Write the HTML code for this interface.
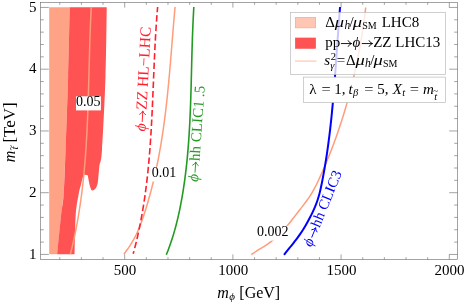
<!DOCTYPE html>
<html><head><meta charset="utf-8"><title>plot</title>
<style>
html,body{margin:0;padding:0;background:#fff;width:467px;height:307px;overflow:hidden}
svg{display:block;position:absolute;left:0;top:0;will-change:transform}
text{font-family:"Liberation Serif",serif;fill:#000}
</style></head><body>
<svg width="467" height="307" viewBox="0 0 467 307">
<rect width="467" height="307" fill="#fff"/>
<path d="M49.20,7.20 L69.75,7.20 L68.10,77.00 L65.50,152.00 L63.60,195.00 L61.10,215.00 L57.20,254.30 L49.20,254.30 Z" fill="#FFA386"/>
<path d="M69.75,7.20 C69.47,18.83 68.81,52.87 68.10,77.00 C67.39,101.13 66.25,132.33 65.50,152.00 C64.75,171.67 64.33,184.50 63.60,195.00 C62.87,205.50 62.17,205.12 61.10,215.00 C60.03,224.88 57.85,247.75 57.20,254.30 L74.60,254.30 L74.60,254.30 C74.78,247.75 75.05,224.88 75.70,215.00 C76.35,205.12 77.60,200.17 78.50,195.00 C79.40,189.83 80.25,187.42 81.10,184.00 C81.95,180.58 83.18,176.08 83.60,174.50 L87.80,175.30 C88.02,176.52 88.70,180.65 89.10,182.60 C89.50,184.55 89.72,185.70 90.20,187.00 C90.68,188.30 91.12,190.15 92.00,190.40 C92.88,190.65 94.53,189.80 95.50,188.50 C96.47,187.20 97.15,186.30 97.80,182.60 C98.45,178.90 98.70,171.73 99.40,166.30 C100.10,160.87 100.98,164.88 102.00,150.00 C103.02,135.12 104.71,100.80 105.50,77.00 C106.29,53.20 106.54,18.83 106.75,7.20 Z" fill="#FF5252"/>
<path d="M91.28,7.00 C91.25,7.70 91.13,9.79 91.06,11.19 C90.99,12.59 90.93,13.98 90.86,15.38 C90.80,16.78 90.73,18.17 90.67,19.57 C90.61,20.97 90.55,22.36 90.49,23.76 C90.44,25.16 90.38,26.55 90.33,27.95 C90.27,29.35 90.22,30.74 90.17,32.14 C90.12,33.54 90.07,34.93 90.02,36.33 C89.97,37.73 89.93,39.12 89.88,40.52 C89.84,41.92 89.79,43.31 89.75,44.71 C89.71,46.11 89.67,47.50 89.63,48.90 C89.59,50.29 89.55,51.69 89.51,53.09 C89.47,54.48 89.43,55.88 89.39,57.28 C89.35,58.67 89.31,60.07 89.28,61.47 C89.24,62.86 89.20,64.26 89.17,65.66 C89.13,67.05 89.09,68.45 89.06,69.85 C89.02,71.24 88.99,72.64 88.95,74.04 C88.91,75.43 88.88,76.83 88.84,78.23 C88.80,79.62 88.77,81.02 88.73,82.42 C88.69,83.81 88.65,85.21 88.61,86.61 C88.57,88.00 88.54,89.40 88.50,90.80 C88.46,92.19 88.41,93.59 88.37,94.99 C88.33,96.38 88.29,97.78 88.24,99.18 C88.20,100.57 88.16,101.97 88.11,103.37 C88.06,104.76 88.02,106.16 87.97,107.56 C87.92,108.95 87.87,110.35 87.82,111.75 C87.76,113.14 87.71,114.54 87.66,115.94 C87.60,117.33 87.54,118.73 87.48,120.13 C87.42,121.52 87.36,122.92 87.30,124.32 C87.24,125.71 87.17,127.11 87.10,128.51 C87.04,129.90 86.97,131.30 86.89,132.69 C86.82,134.09 86.75,135.49 86.67,136.88 C86.59,138.28 86.51,139.68 86.43,141.07 C86.35,142.47 86.26,143.87 86.17,145.26 C86.08,146.66 85.99,148.06 85.90,149.45 C85.80,150.85 85.71,152.25 85.61,153.64 C85.50,155.04 85.40,156.44 85.29,157.83 C85.19,159.23 85.07,160.63 84.96,162.02 C84.84,163.42 84.73,164.82 84.60,166.21 C84.48,167.61 84.36,169.01 84.23,170.40 C84.10,171.80 83.96,173.20 83.83,174.59 C83.69,175.99 83.55,177.39 83.40,178.78 C83.25,180.18 83.10,181.58 82.95,182.97 C82.79,184.37 82.63,185.77 82.47,187.16 C82.31,188.56 82.14,189.96 81.96,191.35 C81.79,192.75 81.61,194.15 81.43,195.54 C81.25,196.94 81.06,198.34 80.87,199.73 C80.67,201.13 80.47,202.53 80.27,203.92 C80.07,205.32 79.86,206.72 79.64,208.11 C79.43,209.51 79.21,210.91 78.99,212.30 C78.76,213.70 78.53,215.09 78.29,216.49 C78.06,217.89 77.81,219.28 77.57,220.68 C77.32,222.08 77.06,223.47 76.80,224.87 C76.54,226.27 76.28,227.66 76.00,229.06 C75.73,230.46 75.45,231.85 75.17,233.25 C74.88,234.65 74.59,236.04 74.29,237.44 C73.99,238.84 73.69,240.23 73.38,241.63 C73.07,243.03 72.75,244.42 72.42,245.82 C72.10,247.22 71.76,248.61 71.42,250.01 C71.09,251.41 70.56,253.50 70.39,254.20" fill="none" stroke="#FF9C7A" stroke-width="1.5"/>
<path d="M175.05,7.00 C174.99,7.70 174.80,9.79 174.68,11.19 C174.55,12.59 174.43,13.98 174.31,15.38 C174.19,16.78 174.07,18.17 173.95,19.57 C173.83,20.97 173.72,22.36 173.60,23.76 C173.48,25.16 173.37,26.55 173.25,27.95 C173.14,29.35 173.02,30.74 172.91,32.14 C172.80,33.54 172.68,34.93 172.57,36.33 C172.46,37.73 172.34,39.12 172.23,40.52 C172.12,41.92 172.01,43.31 171.89,44.71 C171.78,46.11 171.67,47.50 171.56,48.90 C171.44,50.29 171.33,51.69 171.22,53.09 C171.10,54.48 170.99,55.88 170.87,57.28 C170.76,58.67 170.64,60.07 170.53,61.47 C170.41,62.86 170.29,64.26 170.17,65.66 C170.05,67.05 169.93,68.45 169.81,69.85 C169.69,71.24 169.57,72.64 169.44,74.04 C169.32,75.43 169.19,76.83 169.07,78.23 C168.94,79.62 168.81,81.02 168.68,82.42 C168.55,83.81 168.41,85.21 168.28,86.61 C168.14,88.00 168.01,89.40 167.87,90.80 C167.73,92.19 167.58,93.59 167.44,94.99 C167.29,96.38 167.15,97.78 167.00,99.18 C166.85,100.57 166.69,101.97 166.54,103.37 C166.38,104.76 166.22,106.16 166.06,107.56 C165.90,108.95 165.73,110.35 165.56,111.75 C165.40,113.14 165.22,114.54 165.05,115.94 C164.87,117.33 164.69,118.73 164.51,120.13 C164.33,121.52 164.14,122.92 163.95,124.32 C163.76,125.71 163.56,127.11 163.36,128.51 C163.17,129.90 162.96,131.30 162.75,132.69 C162.55,134.09 162.33,135.49 162.12,136.88 C161.90,138.28 161.68,139.68 161.45,141.07 C161.23,142.47 161.00,143.87 160.76,145.26 C160.52,146.66 160.28,148.06 160.04,149.45 C159.79,150.85 159.54,152.25 159.28,153.64 C159.03,155.04 158.76,156.44 158.50,157.83 C158.23,159.23 157.95,160.63 157.67,162.02 C157.40,163.42 157.11,164.82 156.82,166.21 C156.53,167.61 156.23,169.01 155.93,170.40 C155.62,171.80 155.31,173.20 155.00,174.59 C154.68,175.99 154.36,177.39 154.03,178.78 C153.70,180.18 153.36,181.58 153.02,182.97 C152.68,184.37 152.33,185.77 151.97,187.16 C151.61,188.56 151.25,189.96 150.88,191.35 C150.51,192.75 150.13,194.15 149.74,195.54 C149.36,196.94 148.96,198.34 148.56,199.73 C148.16,201.13 147.75,202.53 147.33,203.92 C146.92,205.32 146.49,206.72 146.06,208.11 C145.63,209.51 145.19,210.91 144.74,212.30 C144.29,213.70 143.83,215.09 143.36,216.49 C142.90,217.89 142.43,219.28 141.94,220.68 C141.44,222.08 140.94,223.47 140.41,224.87 C139.88,226.27 139.33,227.66 138.75,229.06 C138.16,230.46 137.55,231.85 136.89,233.25 C136.23,234.65 135.54,236.04 134.79,237.44 C134.05,238.84 133.25,240.23 132.42,241.63 C131.59,243.03 130.71,244.42 129.79,245.82 C128.87,247.22 127.91,248.61 126.93,250.01 C125.94,251.41 124.36,253.50 123.85,254.20" fill="none" stroke="#FF9C7A" stroke-width="1.5"/>
<path d="M365.71,7.50 C365.62,8.20 365.37,10.29 365.20,11.69 C365.03,13.09 364.85,14.48 364.67,15.88 C364.49,17.28 364.30,18.67 364.11,20.07 C363.92,21.47 363.72,22.86 363.52,24.26 C363.33,25.66 363.12,27.05 362.91,28.45 C362.70,29.85 362.49,31.24 362.27,32.64 C362.06,34.04 361.83,35.43 361.61,36.83 C361.38,38.23 361.15,39.62 360.91,41.02 C360.68,42.42 360.44,43.81 360.19,45.21 C359.94,46.61 359.69,48.00 359.44,49.40 C359.18,50.79 358.92,52.19 358.65,53.59 C358.39,54.98 358.12,56.38 357.84,57.78 C357.56,59.17 357.28,60.57 357.00,61.97 C356.71,63.36 356.42,64.76 356.12,66.16 C355.82,67.55 355.52,68.95 355.21,70.35 C354.91,71.74 354.59,73.14 354.28,74.54 C353.96,75.93 353.63,77.33 353.30,78.73 C352.97,80.12 352.64,81.52 352.30,82.92 C351.96,84.31 351.61,85.71 351.26,87.11 C350.91,88.50 350.55,89.90 350.19,91.30 C349.83,92.69 349.46,94.09 349.08,95.49 C348.71,96.88 348.33,98.28 347.94,99.68 C347.55,101.07 347.16,102.47 346.76,103.87 C346.37,105.26 345.96,106.66 345.55,108.06 C345.14,109.45 344.72,110.85 344.30,112.25 C343.88,113.64 343.45,115.04 343.01,116.44 C342.58,117.83 342.14,119.23 341.69,120.63 C341.24,122.02 340.79,123.42 340.33,124.82 C339.87,126.21 339.40,127.61 338.93,129.01 C338.46,130.40 337.98,131.80 337.49,133.19 C337.00,134.59 336.51,135.99 336.01,137.38 C335.51,138.78 335.01,140.18 334.49,141.57 C333.98,142.97 333.46,144.37 332.94,145.76 C332.41,147.16 331.88,148.56 331.34,149.95 C330.80,151.35 330.25,152.75 329.70,154.14 C329.14,155.54 328.58,156.94 328.02,158.33 C327.45,159.73 326.87,161.13 326.29,162.52 C325.71,163.92 325.12,165.32 324.53,166.71 C323.93,168.11 323.33,169.51 322.72,170.90 C322.11,172.30 321.49,173.70 320.86,175.09 C320.24,176.49 319.61,177.89 318.96,179.28 C318.32,180.68 317.66,182.08 316.98,183.47 C316.29,184.87 315.59,186.27 314.84,187.66 C314.10,189.06 313.33,190.46 312.51,191.85 C311.69,193.25 310.83,194.65 309.92,196.04 C309.00,197.44 308.03,198.84 307.04,200.23 C306.04,201.63 305.00,203.03 303.94,204.42 C302.89,205.82 301.80,207.22 300.72,208.61 C299.64,210.01 298.54,211.41 297.45,212.80 C296.36,214.20 295.29,215.59 294.20,216.99 C293.11,218.39 292.03,219.78 290.91,221.18 C289.80,222.58 288.68,223.97 287.51,225.37 C286.35,226.77 285.18,228.16 283.92,229.56 C282.67,230.96 281.38,232.35 279.98,233.75 C278.58,235.15 277.13,236.54 275.52,237.94 C273.91,239.34 272.22,240.73 270.34,242.13 C268.47,243.53 266.47,244.92 264.27,246.32 C262.07,247.72 259.30,249.11 257.15,250.51 C255.00,251.91 252.33,254.00 251.37,254.70" fill="none" stroke="#FF9C7A" stroke-width="1.5"/>
<path d="M157.61,7.00 C157.53,8.05 157.26,11.22 157.10,13.33 C156.93,15.43 156.77,17.54 156.62,19.65 C156.47,21.76 156.33,23.87 156.19,25.98 C156.05,28.09 155.92,30.19 155.79,32.30 C155.66,34.41 155.54,36.52 155.42,38.63 C155.30,40.74 155.19,42.85 155.08,44.95 C154.97,47.06 154.87,49.17 154.76,51.28 C154.66,53.39 154.56,55.50 154.47,57.61 C154.37,59.71 154.27,61.82 154.18,63.93 C154.09,66.04 154.00,68.15 153.91,70.26 C153.82,72.36 153.74,74.47 153.65,76.58 C153.56,78.69 153.48,80.80 153.39,82.91 C153.30,85.02 153.22,87.12 153.13,89.23 C153.04,91.34 152.95,93.45 152.86,95.56 C152.77,97.67 152.68,99.78 152.59,101.88 C152.50,103.99 152.40,106.10 152.31,108.21 C152.21,110.32 152.11,112.43 152.00,114.54 C151.90,116.64 151.79,118.75 151.68,120.86 C151.57,122.97 151.46,125.08 151.34,127.19 C151.22,129.30 151.09,131.40 150.96,133.51 C150.83,135.62 150.70,137.73 150.56,139.84 C150.42,141.95 150.27,144.06 150.12,146.16 C149.96,148.27 149.80,150.38 149.64,152.49 C149.47,154.60 149.29,156.71 149.11,158.82 C148.93,160.92 148.74,163.03 148.54,165.14 C148.34,167.25 148.13,169.36 147.91,171.47 C147.70,173.58 147.47,175.68 147.23,177.79 C147.00,179.90 146.75,182.01 146.49,184.12 C146.23,186.23 145.97,188.34 145.69,190.44 C145.41,192.55 145.12,194.66 144.82,196.77 C144.51,198.88 144.20,200.99 143.87,203.09 C143.55,205.20 143.21,207.31 142.85,209.42 C142.50,211.53 142.14,213.64 141.76,215.75 C141.38,217.85 140.98,219.96 140.57,222.07 C140.17,224.18 139.74,226.29 139.30,228.40 C138.86,230.51 138.41,232.61 137.94,234.72 C137.47,236.83 136.98,238.94 136.47,241.05 C135.97,243.16 135.44,245.27 134.90,247.37 C134.35,249.48 133.49,252.65 133.21,253.70" fill="none" stroke="#FF1F2D" stroke-width="1.6" stroke-dasharray="6.5,3" stroke-dashoffset="1.3"/>
<path d="M193.84,7.00 C193.78,8.06 193.59,11.24 193.48,13.35 C193.36,15.47 193.26,17.59 193.16,19.71 C193.06,21.83 192.96,23.94 192.87,26.06 C192.78,28.18 192.70,30.30 192.62,32.42 C192.54,34.53 192.46,36.65 192.39,38.77 C192.32,40.89 192.26,43.01 192.19,45.12 C192.13,47.24 192.07,49.36 192.01,51.48 C191.95,53.59 191.89,55.71 191.84,57.83 C191.78,59.95 191.73,62.07 191.68,64.18 C191.62,66.30 191.57,68.42 191.52,70.54 C191.47,72.66 191.42,74.77 191.36,76.89 C191.31,79.01 191.26,81.13 191.20,83.25 C191.15,85.36 191.09,87.48 191.03,89.60 C190.97,91.72 190.91,93.84 190.84,95.95 C190.78,98.07 190.71,100.19 190.64,102.31 C190.56,104.43 190.49,106.54 190.40,108.66 C190.32,110.78 190.24,112.90 190.14,115.02 C190.05,117.13 189.96,119.25 189.85,121.37 C189.75,123.49 189.64,125.61 189.52,127.72 C189.40,129.84 189.28,131.96 189.14,134.08 C189.01,136.19 188.87,138.31 188.72,140.43 C188.57,142.55 188.41,144.67 188.25,146.78 C188.08,148.90 187.90,151.02 187.71,153.14 C187.53,155.26 187.33,157.37 187.12,159.49 C186.91,161.61 186.69,163.73 186.46,165.85 C186.22,167.96 185.98,170.08 185.72,172.20 C185.47,174.32 185.20,176.44 184.91,178.55 C184.63,180.67 184.34,182.79 184.02,184.91 C183.71,187.03 183.39,189.14 183.05,191.26 C182.71,193.38 182.35,195.50 181.98,197.62 C181.61,199.73 181.22,201.85 180.82,203.97 C180.41,206.09 179.99,208.21 179.55,210.32 C179.11,212.44 178.65,214.56 178.16,216.68 C177.68,218.79 177.17,220.91 176.63,223.03 C176.10,225.15 175.54,227.27 174.95,229.38 C174.36,231.50 173.74,233.62 173.09,235.74 C172.43,237.86 171.75,239.97 171.03,242.09 C170.31,244.21 169.56,246.33 168.76,248.45 C167.97,250.56 166.68,253.74 166.27,254.80" fill="none" stroke="#239B23" stroke-width="1.6"/>
<path d="M340.08,7.00 C340.02,7.70 339.85,9.80 339.74,11.20 C339.62,12.60 339.51,14.00 339.40,15.40 C339.29,16.80 339.18,18.20 339.07,19.61 C338.97,21.01 338.86,22.41 338.76,23.81 C338.65,25.21 338.55,26.61 338.44,28.01 C338.34,29.41 338.24,30.81 338.14,32.21 C338.04,33.61 337.94,35.01 337.84,36.41 C337.74,37.81 337.64,39.21 337.54,40.61 C337.44,42.01 337.34,43.41 337.25,44.82 C337.15,46.22 337.05,47.62 336.95,49.02 C336.85,50.42 336.76,51.82 336.66,53.22 C336.56,54.62 336.46,56.02 336.36,57.42 C336.27,58.82 336.17,60.22 336.07,61.62 C335.97,63.02 335.87,64.42 335.77,65.82 C335.67,67.22 335.57,68.62 335.47,70.03 C335.37,71.43 335.26,72.83 335.16,74.23 C335.06,75.63 334.95,77.03 334.84,78.43 C334.74,79.83 334.63,81.23 334.52,82.63 C334.41,84.03 334.30,85.43 334.19,86.83 C334.08,88.23 333.97,89.63 333.85,91.03 C333.74,92.43 333.62,93.84 333.50,95.24 C333.38,96.64 333.26,98.04 333.14,99.44 C333.02,100.84 332.89,102.24 332.77,103.64 C332.64,105.04 332.51,106.44 332.38,107.84 C332.24,109.24 332.11,110.64 331.97,112.04 C331.84,113.44 331.70,114.84 331.55,116.24 C331.41,117.64 331.26,119.05 331.12,120.45 C330.97,121.85 330.82,123.25 330.66,124.65 C330.51,126.05 330.35,127.45 330.19,128.85 C330.02,130.25 329.86,131.65 329.69,133.05 C329.52,134.45 329.35,135.85 329.17,137.25 C329.00,138.65 328.82,140.05 328.63,141.45 C328.45,142.85 328.26,144.26 328.07,145.66 C327.88,147.06 327.68,148.46 327.48,149.86 C327.28,151.26 327.08,152.66 326.87,154.06 C326.66,155.46 326.45,156.86 326.23,158.26 C326.01,159.66 325.79,161.06 325.56,162.46 C325.33,163.86 325.10,165.26 324.86,166.66 C324.62,168.06 324.38,169.47 324.13,170.87 C323.89,172.27 323.63,173.67 323.37,175.07 C323.12,176.47 322.85,177.87 322.58,179.27 C322.31,180.67 322.04,182.07 321.76,183.47 C321.47,184.87 321.19,186.27 320.88,187.67 C320.57,189.07 320.26,190.47 319.92,191.87 C319.57,193.28 319.21,194.68 318.81,196.08 C318.41,197.48 317.99,198.88 317.52,200.28 C317.05,201.68 316.54,203.08 315.99,204.48 C315.45,205.88 314.86,207.28 314.25,208.68 C313.63,210.08 312.98,211.48 312.31,212.88 C311.63,214.28 310.93,215.68 310.21,217.08 C309.48,218.49 308.74,219.89 307.97,221.29 C307.20,222.69 306.41,224.09 305.59,225.49 C304.77,226.89 303.92,228.29 303.03,229.69 C302.15,231.09 301.23,232.49 300.27,233.89 C299.30,235.29 298.30,236.69 297.26,238.09 C296.22,239.49 295.12,240.89 294.03,242.29 C292.93,243.70 291.79,245.10 290.67,246.50 C289.55,247.90 288.41,249.30 287.30,250.70 C286.19,252.10 284.57,254.20 284.02,254.90" fill="none" stroke="#0000FF" stroke-width="2"/>
<rect x="76.00" y="96.30" width="24.90" height="14.10" fill="#fff"/>
<text x="76.10" y="106.20" style="font-size:14px">0.05</text>
<rect x="150.90" y="166.80" width="25.10" height="14.70" fill="#fff"/>
<text x="151.70" y="177.40" style="font-size:14px">0.01</text>
<rect x="256.30" y="226.40" width="33.70" height="14.20" fill="#fff"/>
<text x="256.90" y="236.40" style="font-size:14px">0.002</text>
<g stroke="#666" stroke-width="0.6" fill="none">
<rect x="40.5" y="2.5" width="417.0" height="257.0"/>
<path d="M59.78,259.50 v-2.3 M59.78,2.50 v2.3 M81.42,259.50 v-2.3 M81.42,2.50 v2.3 M103.06,259.50 v-2.3 M103.06,2.50 v2.3 M124.70,259.50 v-5.1 M124.70,2.50 v5.1 M146.34,259.50 v-2.3 M146.34,2.50 v2.3 M167.98,259.50 v-2.3 M167.98,2.50 v2.3 M189.62,259.50 v-2.3 M189.62,2.50 v2.3 M211.26,259.50 v-2.3 M211.26,2.50 v2.3 M232.90,259.50 v-5.1 M232.90,2.50 v5.1 M254.54,259.50 v-2.3 M254.54,2.50 v2.3 M276.18,259.50 v-2.3 M276.18,2.50 v2.3 M297.82,259.50 v-2.3 M297.82,2.50 v2.3 M319.46,259.50 v-2.3 M319.46,2.50 v2.3 M341.10,259.50 v-5.1 M341.10,2.50 v5.1 M362.74,259.50 v-2.3 M362.74,2.50 v2.3 M384.38,259.50 v-2.3 M384.38,2.50 v2.3 M406.02,259.50 v-2.3 M406.02,2.50 v2.3 M427.66,259.50 v-2.3 M427.66,2.50 v2.3 M449.30,259.50 v-5.1 M449.30,2.50 v5.1 M40.50,254.45 h8.3 M457.50,254.45 h-8.3 M40.50,242.10 h3.3 M457.50,242.10 h-3.3 M40.50,229.75 h3.3 M457.50,229.75 h-3.3 M40.50,217.40 h3.3 M457.50,217.40 h-3.3 M40.50,205.05 h3.3 M457.50,205.05 h-3.3 M40.50,192.70 h8.3 M457.50,192.70 h-8.3 M40.50,180.35 h3.3 M457.50,180.35 h-3.3 M40.50,168.00 h3.3 M457.50,168.00 h-3.3 M40.50,155.65 h3.3 M457.50,155.65 h-3.3 M40.50,143.30 h3.3 M457.50,143.30 h-3.3 M40.50,130.95 h8.3 M457.50,130.95 h-8.3 M40.50,118.60 h3.3 M457.50,118.60 h-3.3 M40.50,106.25 h3.3 M457.50,106.25 h-3.3 M40.50,93.90 h3.3 M457.50,93.90 h-3.3 M40.50,81.55 h3.3 M457.50,81.55 h-3.3 M40.50,69.20 h8.3 M457.50,69.20 h-8.3 M40.50,56.85 h3.3 M457.50,56.85 h-3.3 M40.50,44.50 h3.3 M457.50,44.50 h-3.3 M40.50,32.15 h3.3 M457.50,32.15 h-3.3 M40.50,19.80 h3.3 M457.50,19.80 h-3.3 M40.50,7.45 h8.3 M457.50,7.45 h-8.3"/>
</g>
<text x="125.00" y="274.80" style="font-size:15px" text-anchor="middle">500</text>
<text x="233.20" y="274.80" style="font-size:15px" text-anchor="middle">1000</text>
<text x="341.40" y="274.80" style="font-size:15px" text-anchor="middle">1500</text>
<text x="449.60" y="274.80" style="font-size:15px" text-anchor="middle">2000</text>
<text x="36.60" y="258.55" style="font-size:15px" text-anchor="end">1</text>
<text x="36.60" y="196.80" style="font-size:15px" text-anchor="end">2</text>
<text x="36.60" y="135.05" style="font-size:15px" text-anchor="end">3</text>
<text x="36.60" y="73.30" style="font-size:15px" text-anchor="end">4</text>
<text x="36.60" y="11.55" style="font-size:15px" text-anchor="end">5</text>
<text x="217.30" y="297.90" style="font-size:16px;font-style:italic">m</text>
<text x="229.20" y="300.30" style="font-size:11px;font-style:italic">ϕ</text>
<text x="239.30" y="297.90" style="font-size:16px">[GeV]</text>
<g transform="translate(15.3,162.2) rotate(-90)">
<text x="0.00" y="0.00" style="font-size:16px;font-style:italic">m</text>
<text x="12.70" y="2.80" style="font-size:11px;font-style:italic">t</text>
<text x="11.60" y="-1.60" style="font-size:10.5px">~</text>
<text x="19.60" y="0.00" style="font-size:16px" textLength="40.20" lengthAdjust="spacingAndGlyphs">[TeV]</text>
</g>
<g transform="translate(145.50,131.40) rotate(-87.05)">
<text x="0.00" y="0.00" style="font-size:15.5px;font-style:italic;fill:#FF1F2D">ϕ</text>
<path transform="translate(8.60,0.00) scale(1.03333)" d="M1,-3.65 H11 M7.9,-6.5 Q9,-4.3 11.3,-3.65 Q9,-3 7.9,-0.8" fill="none" stroke="#FF1F2D" stroke-width="0.9" stroke-linecap="round"/>
<text x="21.40" y="0.00" style="font-size:15.5px;fill:#FF1F2D">ZZ HL−LHC</text>
</g>
<g transform="translate(198.00,182.10) rotate(-86)">
<text x="0.00" y="0.00" style="font-size:15px;font-style:italic;fill:#239B23">ϕ</text>
<path transform="translate(8.60,0.00) scale(1)" d="M1,-3.65 H11 M7.9,-6.5 Q9,-4.3 11.3,-3.65 Q9,-3 7.9,-0.8" fill="none" stroke="#239B23" stroke-width="0.9" stroke-linecap="round"/>
<text x="21.00" y="0.00" style="font-size:15px;fill:#239B23">hh CLIC1 .5</text>
</g>
<g transform="translate(311.50,247.40) rotate(-67.7)">
<text x="0.00" y="0.00" style="font-size:14.8px;font-style:italic;fill:#0000FF">ϕ</text>
<path transform="translate(8.60,0.00) scale(0.986667)" d="M1,-3.65 H11 M7.9,-6.5 Q9,-4.3 11.3,-3.65 Q9,-3 7.9,-0.8" fill="none" stroke="#0000FF" stroke-width="0.9" stroke-linecap="round"/>
<text x="20.84" y="0.00" style="font-size:14.8px;fill:#0000FF">hh CLIC3</text>
</g>
<rect x="290.5" y="12.5" width="155" height="62" fill="#fff" fill-opacity="0.78" stroke="#bbb" stroke-width="0.7"/>
<rect x="295.4" y="17.5" width="20.2" height="10.3" fill="#FFC7B3" stroke="#FFA98F" stroke-width="0.8"/>
<rect x="295.4" y="38" width="20.2" height="10.3" fill="#FF5252" stroke="#FF5252" stroke-width="0.7"/>
<path d="M295,61.1 h21.5" stroke="#FFC5B0" stroke-width="1.2"/>
<text x="325.20" y="26.80" style="font-size:15px">Δ</text>
<text x="334.80" y="26.80" style="font-size:15px;font-style:italic" textLength="9.30" lengthAdjust="spacingAndGlyphs">μ</text>
<text x="344.40" y="28.70" style="font-size:11.5px;font-style:italic">h</text>
<text x="349.50" y="26.80" style="font-size:15px">/</text>
<text x="352.80" y="26.80" style="font-size:15px;font-style:italic" textLength="9.30" lengthAdjust="spacingAndGlyphs">μ</text>
<text x="362.30" y="28.70" style="font-size:10px">SM</text>
<text x="381.70" y="26.80" style="font-size:15px">LHC8</text>
<text x="325.30" y="47.20" style="font-size:15px">pp</text>
<path transform="translate(340.30,47.20) scale(1)" d="M1,-3.65 H11 M7.9,-6.5 Q9,-4.3 11.3,-3.65 Q9,-3 7.9,-0.8" fill="none" stroke="#000" stroke-width="0.9" stroke-linecap="round"/>
<text x="352.50" y="47.20" style="font-size:15px;font-style:italic">ϕ</text>
<path transform="translate(361.20,47.20) scale(1)" d="M1,-3.65 H11 M7.9,-6.5 Q9,-4.3 11.3,-3.65 Q9,-3 7.9,-0.8" fill="none" stroke="#000" stroke-width="0.9" stroke-linecap="round"/>
<text x="373.20" y="47.20" style="font-size:15px">ZZ LHC13</text>
<text x="324.30" y="65.40" style="font-size:15px;font-style:italic">s</text>
<text x="330.70" y="60.00" style="font-size:10.5px">2</text>
<text x="330.20" y="68.60" style="font-size:10.5px;font-style:italic">γ</text>
<text x="336.80" y="65.40" style="font-size:15px">=</text>
<text x="345.90" y="65.40" style="font-size:15px">Δ</text>
<text x="355.50" y="65.40" style="font-size:15px;font-style:italic" textLength="9.30" lengthAdjust="spacingAndGlyphs">μ</text>
<text x="365.10" y="67.30" style="font-size:11.5px;font-style:italic">h</text>
<text x="370.20" y="65.40" style="font-size:15px">/</text>
<text x="373.50" y="65.40" style="font-size:15px;font-style:italic" textLength="9.30" lengthAdjust="spacingAndGlyphs">μ</text>
<text x="383.00" y="67.30" style="font-size:10px">SM</text>
<rect x="303.4" y="77.1" width="142" height="25.4" fill="#fff" stroke="#bbb" stroke-width="0.7"/>
<text x="309.30" y="93.90" style="font-size:15px">λ</text>
<text x="321.40" y="93.90" style="font-size:15px" textLength="9.20" lengthAdjust="spacingAndGlyphs">=</text>
<text x="334.20" y="93.90" style="font-size:15px">1,</text>
<text x="348.60" y="93.90" style="font-size:15px;font-style:italic">t</text>
<text x="353.10" y="96.30" style="font-size:10.5px;font-style:italic">β</text>
<text x="364.20" y="93.90" style="font-size:15px" textLength="9.20" lengthAdjust="spacingAndGlyphs">=</text>
<text x="377.30" y="93.90" style="font-size:15px">5,</text>
<text x="392.70" y="93.90" style="font-size:15px;font-style:italic">X</text>
<text x="402.30" y="96.30" style="font-size:10.5px;font-style:italic">t</text>
<text x="409.70" y="93.90" style="font-size:15px" textLength="9.20" lengthAdjust="spacingAndGlyphs">=</text>
<text x="423.00" y="93.90" style="font-size:15px;font-style:italic">m</text>
<text x="434.20" y="100.20" style="font-size:10.5px;font-style:italic">t</text>
<text x="433.20" y="93.50" style="font-size:9px">~</text>
</svg>
</body></html>
